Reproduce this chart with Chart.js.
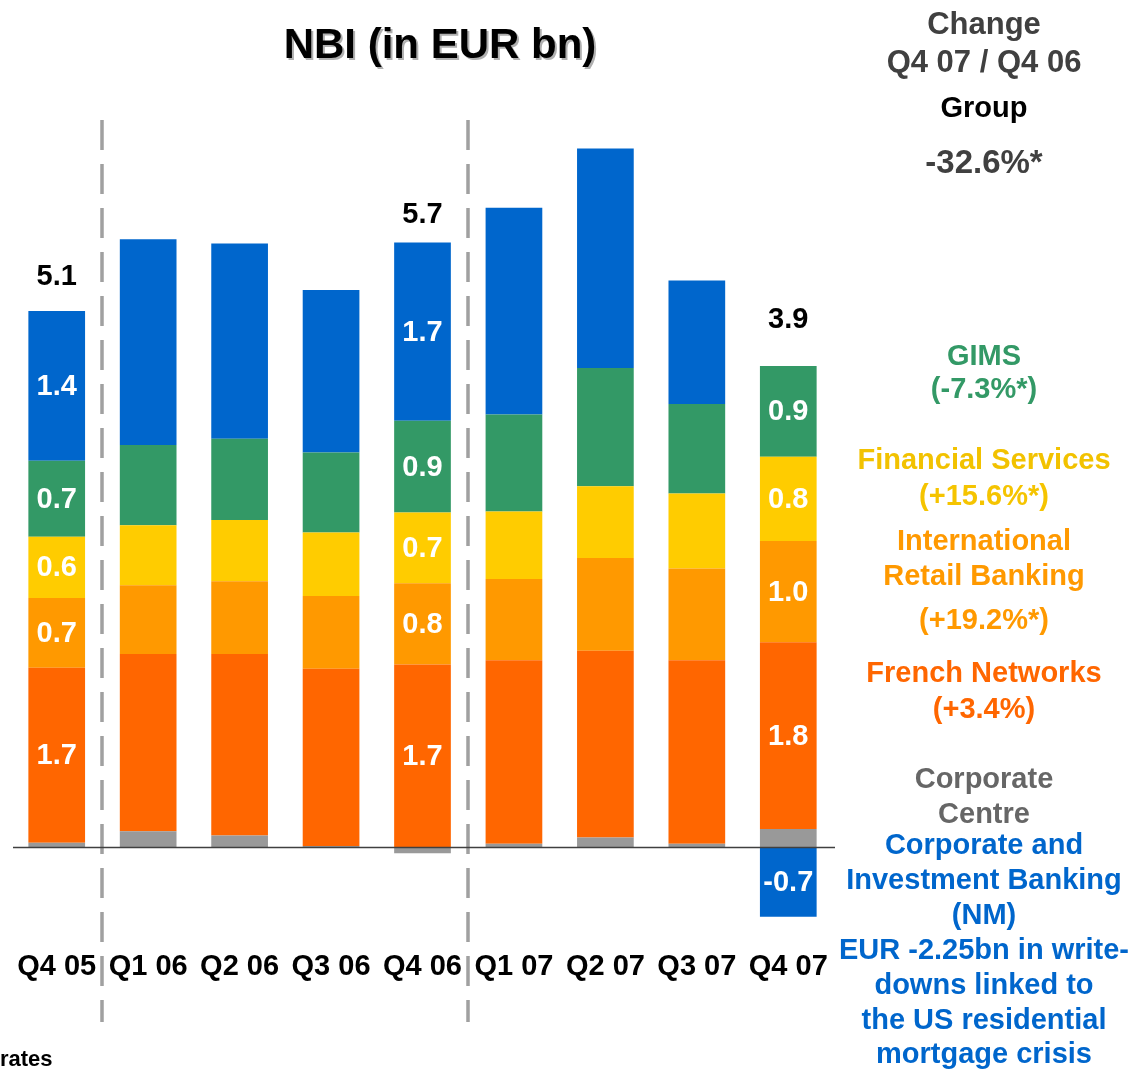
<!DOCTYPE html>
<html>
<head>
<meta charset="utf-8">
<title>NBI (in EUR bn)</title>
<script src="https://cdn.jsdelivr.net/npm/chart.js@4.4.1/dist/chart.umd.min.js"></script>
<style>
  html, body { margin: 0; padding: 0; background: #ffffff; }
  canvas { display: block; }
</style>
</head>
<body>
<canvas id="nbi-chart" width="1133" height="1070"></canvas>
<script>
// quarters on the x axis
const categories = ['Q4 05', 'Q1 06', 'Q2 06', 'Q3 06', 'Q4 06', 'Q1 07', 'Q2 07', 'Q3 07', 'Q4 07'];

// NBI by business line, EUR bn
const corporateCentre = [0.04, 0.15, 0.11, 0.01, -0.06, 0.03, 0.09, 0.03, 0.17];
const frenchNetworks  = [1.66, 1.68, 1.72, 1.68, 1.73, 1.74, 1.77, 1.74, 1.77];
const intlRetail      = [0.66, 0.65, 0.69, 0.69, 0.77, 0.77, 0.88, 0.87, 0.96];
const finServices     = [0.58, 0.57, 0.58, 0.60, 0.67, 0.64, 0.68, 0.71, 0.80];
const gims            = [0.72, 0.76, 0.77, 0.76, 0.87, 0.92, 1.12, 0.85, 0.86];
const cib             = [1.42, 1.95, 1.85, 1.54, 1.69, 1.96, 2.08, 1.17, -0.66];

// bars that carry value labels
const labelledBars = [0, 4, 8];

const FONT = '"Liberation Sans", Arial, Helvetica, sans-serif';

const colors = {
  corporate: '#999999',
  french: '#FF6600',
  intl: '#FF9900',
  fin: '#FFCC00',
  gims: '#339966',
  cib: '#0066CC'
};

// right hand commentary
const sideNotes = [
  { text: 'Change', color: '#404040', size: 31, y: 25 },
  { text: 'Q4 07 / Q4 06', color: '#404040', size: 31, y: 63 },
  { text: 'Group', color: '#000000', size: 29, y: 109 },
  { text: '-32.6%*', color: '#404040', size: 33, y: 164 },
  { text: 'GIMS', color: '#339966', size: 29, y: 357 },
  { text: '(-7.3%*)', color: '#339966', size: 29, y: 390 },
  { text: 'Financial Services', color: '#F2C200', size: 29, y: 461 },
  { text: '(+15.6%*)', color: '#F5C400', size: 29, y: 497 },
  { text: 'International', color: '#FF9900', size: 29, y: 542 },
  { text: 'Retail Banking', color: '#FF9900', size: 29, y: 577 },
  { text: '(+19.2%*)', color: '#FF9900', size: 29, y: 621 },
  { text: 'French Networks', color: '#FF6600', size: 29, y: 674 },
  { text: '(+3.4%)', color: '#FF6600', size: 29, y: 710 },
  { text: 'Corporate', color: '#666666', size: 29, y: 780 },
  { text: 'Centre', color: '#666666', size: 29, y: 815 },
  { text: 'Corporate and', color: '#0066CC', size: 29, y: 846 },
  { text: 'Investment Banking', color: '#0066CC', size: 29, y: 881 },
  { text: '(NM)', color: '#0066CC', size: 29, y: 916 },
  { text: 'EUR -2.25bn in write-', color: '#0066CC', size: 29, y: 951 },
  { text: 'downs linked to', color: '#0066CC', size: 29, y: 986 },
  { text: 'the US residential', color: '#0066CC', size: 29, y: 1021 },
  { text: 'mortgage crisis', color: '#0066CC', size: 29, y: 1055 }
];

// gap between bar top and its total label
const totalGap = { 0: 34, 4: 27, 8: 46 };

const annotations = {
  id: 'annotations',
  beforeDatasetsDraw(chart) {
    const ctx = chart.ctx;
    const x = chart.scales.x;
    ctx.save();
    ctx.strokeStyle = '#A0A0A0';
    ctx.lineWidth = 3.5;
    ctx.setLineDash([30, 14]);
    [0.5, 4.5].forEach(v => {
      const px = Math.round(x.getPixelForValue(v));
      ctx.beginPath();
      ctx.moveTo(px, 120);
      ctx.lineTo(px, 1022);
      ctx.stroke();
    });
    ctx.restore();
  },
  afterDatasetsDraw(chart) {
    const ctx = chart.ctx;
    const area = chart.chartArea;
    const y = chart.scales.y;
    ctx.save();

    // zero line
    const y0 = Math.round(y.getPixelForValue(0)) + 0.5;
    ctx.strokeStyle = '#404040';
    ctx.lineWidth = 1.5;
    ctx.beginPath();
    ctx.moveTo(area.left + 2, y0);
    ctx.lineTo(area.right + 1, y0);
    ctx.stroke();

    ctx.textAlign = 'center';
    ctx.textBaseline = 'middle';

    // segment values
    ctx.font = 'bold 29px ' + FONT;
    ctx.fillStyle = '#ffffff';
    labelledBars.forEach(i => {
      chart.data.datasets.forEach((ds, d) => {
        if (d === 0) return;
        const bar = chart.getDatasetMeta(d).data[i];
        const v = ds.data[i];
        ctx.fillText(v.toFixed(1), bar.x, (bar.y + bar.base) / 2 + 1);
      });
    });

    // totals
    ctx.fillStyle = '#000000';
    labelledBars.forEach(i => {
      let total = 0;
      let top = y.getPixelForValue(0);
      chart.data.datasets.forEach((ds, d) => {
        const v = ds.data[i];
        total += v;
        const bar = chart.getDatasetMeta(d).data[i];
        if (v > 0) top = Math.min(top, bar.y);
      });
      const bar = chart.getDatasetMeta(0).data[i];
      ctx.fillText(total.toFixed(1), bar.x, top - totalGap[i]);
    });

    // title with a soft shadow
    ctx.font = 'bold 42px ' + FONT;
    ctx.fillStyle = '#b0b0b0';
    ctx.fillText('NBI (in EUR bn)', 442, 48);
    ctx.fillStyle = '#000000';
    ctx.fillText('NBI (in EUR bn)', 440, 46);

    // commentary on the right
    sideNotes.forEach(n => {
      ctx.font = 'bold ' + n.size + 'px ' + FONT;
      ctx.fillStyle = n.color;
      ctx.fillText(n.text, 984, n.y);
    });

    // footnote (cut off at the page edge)
    ctx.textAlign = 'left';
    ctx.font = 'bold 22px ' + FONT;
    ctx.fillStyle = '#000000';
    ctx.fillText('rates', 0, 1060);

    ctx.restore();
  }
};

const makeSet = (label, data, color) => ({
  label: label,
  data: data,
  backgroundColor: color,
  borderWidth: 0,
  categoryPercentage: 1.0,
  barPercentage: 0.62
});

new Chart(document.getElementById('nbi-chart'), {
  type: 'bar',
  data: {
    labels: categories,
    datasets: [
      makeSet('Corporate Centre', corporateCentre, colors.corporate),
      makeSet('French Networks', frenchNetworks, colors.french),
      makeSet('International Retail Banking', intlRetail, colors.intl),
      makeSet('Financial Services', finServices, colors.fin),
      makeSet('GIMS', gims, colors.gims),
      makeSet('Corporate and Investment Banking', cib, colors.cib)
    ]
  },
  options: {
    responsive: false,
    animation: false,
    layout: {
      padding: { left: 11, right: 299, top: 108.5, bottom: 88.5 }
    },
    plugins: {
      legend: { display: false },
      title: { display: false },
      tooltip: { enabled: false }
    },
    scales: {
      x: {
        stacked: true,
        grid: { display: false, drawTicks: false },
        border: { display: false },
        ticks: {
          autoSkip: false,
          maxRotation: 0,
          padding: 0,
          color: '#000000',
          font: { family: FONT, size: 29, weight: 'bold', lineHeight: 1.0 }
        }
      },
      y: {
        stacked: true,
        display: false,
        min: -1,
        max: 7
      }
    }
  },
  plugins: [annotations]
});
</script>
</body>
</html>
